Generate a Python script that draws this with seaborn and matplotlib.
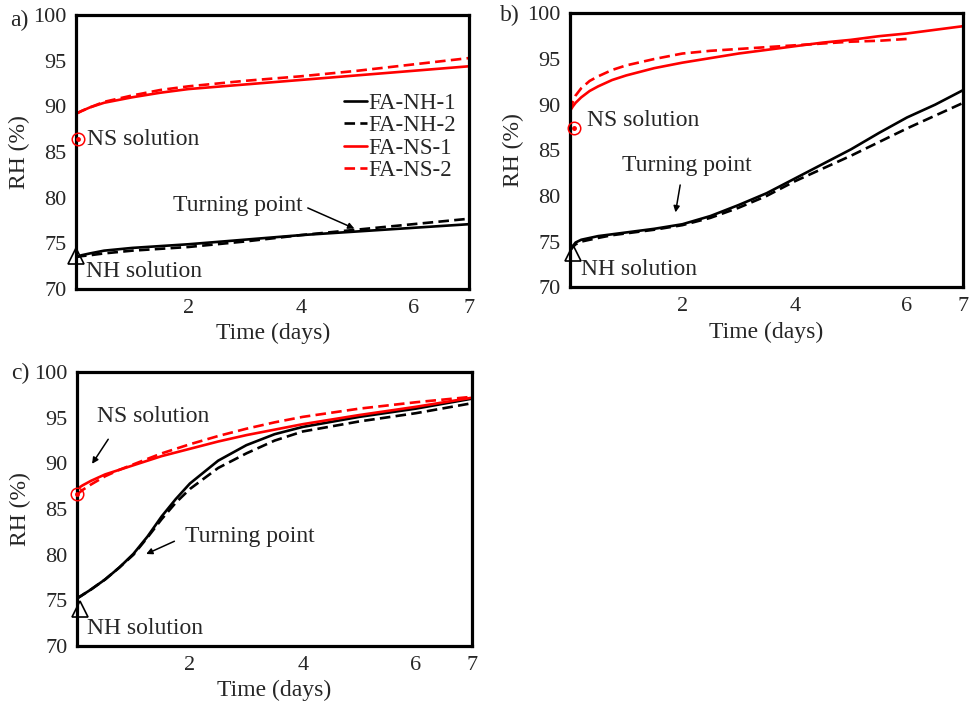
import matplotlib
matplotlib.use("Agg")
import matplotlib.pyplot as plt
import pandas as pd
import seaborn as sns

# panel a) data
xa = [0, 0.1, 0.25, 0.5, 1, 1.5, 2, 3, 4, 5, 6, 7]
a_nh1 = [73.5, 73.7, 73.9, 74.2, 74.5, 74.7, 74.9, 75.4, 75.9, 76.3, 76.7, 77.1]
a_nh2 = [73.5, 73.6, 73.7, 73.9, 74.2, 74.4, 74.6, 75.2, 75.9, 76.5, 77.1, 77.7]
a_ns1 = [89.2, 89.5, 89.9, 90.4, 91.0, 91.5, 91.9, 92.4, 92.9, 93.4, 93.9, 94.4]
a_ns2 = [89.2, 89.5, 89.9, 90.5, 91.2, 91.8, 92.2, 92.8, 93.3, 93.9, 94.6, 95.3]

# panel b) data
xb = [0, 0.05, 0.1, 0.2, 0.35, 0.5, 0.75, 1, 1.5, 2, 2.5, 3, 3.5, 4, 4.5, 5, 5.5, 6, 6.5, 7]
b_nh1 = [74.0, 74.5, 74.9, 75.2, 75.4, 75.6, 75.8, 76.0, 76.4, 76.9, 77.8, 79.0, 80.3, 81.9,
         83.5, 85.1, 86.9, 88.6, 90.0, 91.6]
b_nh2 = [74.0, 74.4, 74.7, 75.0, 75.2, 75.4, 75.7, 75.9, 76.3, 76.8, 77.6, 78.7, 80.0, 81.6,
         83.0, 84.4, 85.9, 87.4, 88.8, 90.2]
b_ns1 = [89.3, 89.8, 90.2, 90.8, 91.5, 92.0, 92.7, 93.2, 94.0, 94.6, 95.1, 95.6, 96.0, 96.4,
         96.8, 97.1, 97.5, 97.8, 98.2, 98.6]
xb2 = xb[:18]
b_ns2 = [89.3, 90.3, 91.0, 91.8, 92.6, 93.1, 93.8, 94.3, 95.0, 95.6, 95.9, 96.1, 96.3, 96.5,
         96.7, 96.9, 97.0, 97.2]

# panel c) data
xc = [0, 0.1, 0.25, 0.5, 0.75, 1, 1.25, 1.5, 1.75, 2, 2.5, 3, 3.5, 4, 5, 6, 7]
c_nh1 = [75.2, 75.6, 76.2, 77.3, 78.6, 80.1, 82.0, 84.2, 86.1, 87.8, 90.3, 92.0, 93.2, 94.0,
         95.1, 96.0, 97.1]
c_nh2 = [75.2, 75.6, 76.2, 77.3, 78.6, 80.0, 81.9, 83.9, 85.7, 87.2, 89.5, 91.1, 92.5, 93.5,
         94.6, 95.5, 96.6]
c_ns1 = [87.2, 87.6, 88.1, 88.8, 89.3, 89.8, 90.3, 90.8, 91.2, 91.6, 92.4, 93.1, 93.7, 94.3,
         95.3, 96.2, 97.2]
c_ns2 = [86.6, 87.1, 87.7, 88.6, 89.3, 89.9, 90.5, 91.1, 91.6, 92.1, 93.0, 93.8, 94.5, 95.1,
         96.0, 96.7, 97.3]

# solution RH markers (x, y)
ns_point = {"a": (0.03, 86.4), "b": (0.07, 87.4), "c": (0.0, 86.7)}
nh_point = {"a": (0.0, 73.6), "b": (0.05, 73.7), "c": (0.05, 74.1)}

series_names = ["FA-NH-1", "FA-NH-2", "FA-NS-1", "FA-NS-2"]
x_ticks = [2, 4, 6, 7]
y_ticks = [70, 75, 80, 85, 90, 95, 100]

sns.set_style("white")
plt.rcParams["font.family"] = ["Liberation Serif", "DejaVu Serif"]

RED = "#ff0000"
dash = (0, (4, 2))
styles = {
    "FA-NH-1": dict(color="black", linestyle="-"),
    "FA-NH-2": dict(color="black", linestyle=dash),
    "FA-NS-1": dict(color=RED, linestyle="-"),
    "FA-NS-2": dict(color=RED, linestyle=dash),
}

fig = plt.figure(figsize=(9.71, 7.04), dpi=100)
axes = {
    "a": fig.add_axes([0.0783, 0.5895, 0.405, 0.389]),
    "b": fig.add_axes([0.587, 0.592, 0.405, 0.389]),
    "c": fig.add_axes([0.0793, 0.0824, 0.407, 0.389]),
}

panel_data = {
    "a": [(xa, a_nh1), (xa, a_nh2), (xa, a_ns1), (xa, a_ns2)],
    "b": [(xb, b_nh1), (xb, b_nh2), (xb, b_ns1), (xb2, b_ns2)],
    "c": [(xc, c_nh1), (xc, c_nh2), (xc, c_ns1), (xc, c_ns2)],
}

for key, ax in axes.items():
    for name, (x, y) in zip(series_names, panel_data[key]):
        df = pd.DataFrame({"Time": x, "RH": y})
        sns.lineplot(data=df, x="Time", y="RH", ax=ax, label=name, lw=1.9,
                     estimator=None, sort=False, **styles[name])
    ax.set_xlim(0, 7)
    ax.set_ylim(70, 100)
    ax.set_xticks(x_ticks)
    ax.set_yticks(y_ticks)
    ax.tick_params(length=0, labelsize=16, pad=7)
    ax.set_xlabel("Time (days)", fontsize=17, labelpad=4)
    ax.set_ylabel("RH (%)", fontsize=17, labelpad=2)
    for sp in ax.spines.values():
        sp.set_linewidth(2.3)
        sp.set_color("black")
    # solution points
    px, py = ns_point[key]
    ax.plot(px, py, "o", ms=9, mfc="none", mec=RED, mew=1.1, clip_on=False, zorder=5)
    ax.plot(px, py, "o", ms=2.5, color=RED, clip_on=False, zorder=5)
    tx, ty = nh_point[key]
    ax.plot(tx, ty, "^", ms=12, mfc="none", mec="black", mew=1.2, clip_on=False, zorder=5)
    if key != "a":
        ax.get_legend().remove()

arrow = dict(arrowstyle="-|>", color="black", lw=1.1, mutation_scale=9)
txt = dict(fontsize=17, va="center", ha="left")

axa = axes["a"]
axa.legend(loc="upper right", bbox_to_anchor=(0.995, 0.757), frameon=False, fontsize=16.5,
           handlelength=1.0, handletextpad=0.05, labelspacing=0.05, borderpad=0)
axa.text(0.2, 86.4, "NS solution", **txt)
axa.text(0.18, 71.9, "NH solution", **txt)
axa.text(1.73, 79.2, "Turning point", **txt)
axa.annotate("", xy=(5.0, 76.5), xytext=(4.08, 79.0), arrowprops=arrow)

axb = axes["b"]
axb.text(0.3, 88.3, "NS solution", **txt)
axb.text(0.19, 71.9, "NH solution", **txt)
axb.text(0.93, 83.35, "Turning point", **txt)
axb.annotate("", xy=(1.87, 77.9), xytext=(1.97, 81.5), arrowprops=arrow)

axc = axes["c"]
axc.text(0.35, 95.1, "NS solution", **txt)
axc.annotate("", xy=(0.24, 89.7), xytext=(0.58, 92.9), arrowprops=arrow)
axc.text(1.91, 82.0, "Turning point", **txt)
axc.annotate("", xy=(1.18, 79.95), xytext=(1.77, 81.6), arrowprops=arrow)
axc.text(0.18, 71.9, "NH solution", **txt)

fig.text(19 / 971, 1 - 20 / 704, "a)", fontsize=17, ha="center", va="center")
fig.text(510 / 971, 1 - 15 / 704, "b)", fontsize=17, ha="center", va="center")
fig.text(20 / 971, 1 - 373 / 704, "c)", fontsize=17, ha="center", va="center")

fig.savefig("out.png", dpi=100)
